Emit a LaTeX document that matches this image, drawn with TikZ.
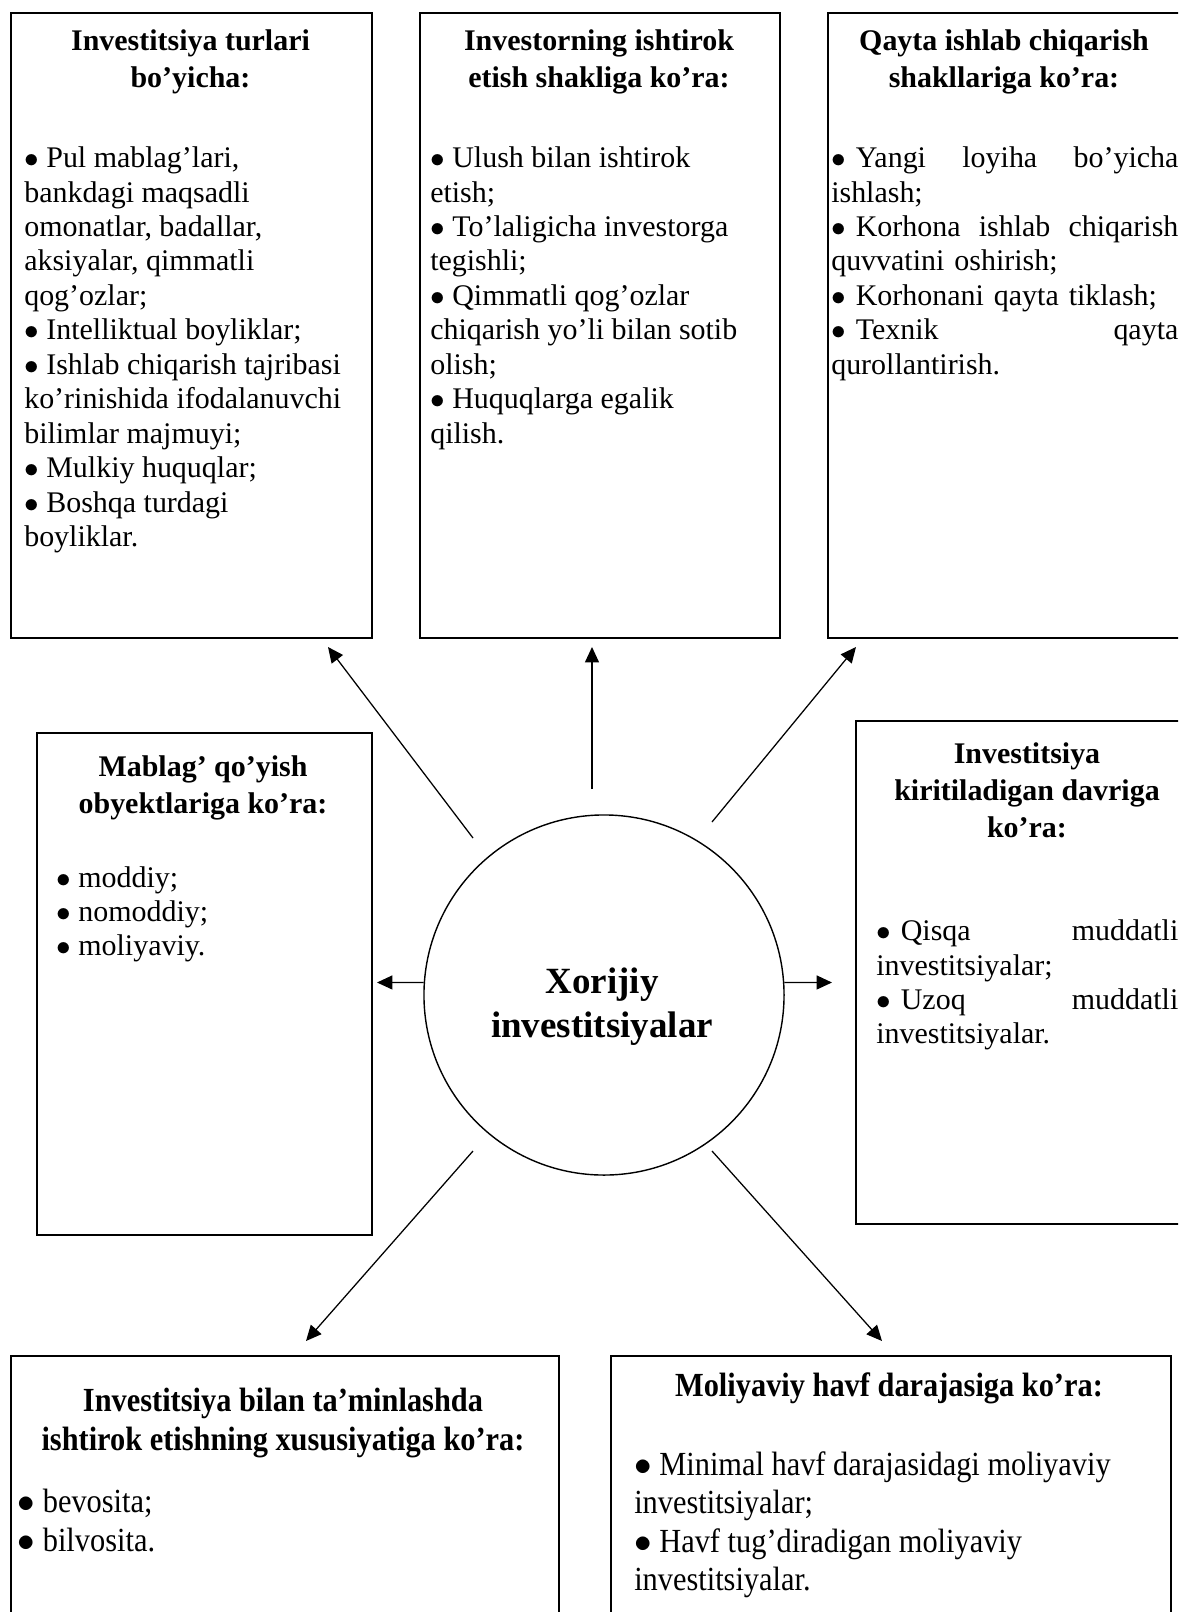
\documentclass[tikz,border=0pt]{standalone}
\usepackage{fontspec}
\setmainfont{Liberation Serif}
\newfontfamily\tallfont[FakeStretch=0.9]{Liberation Serif}
\usetikzlibrary{arrows.meta}
\newcommand{\dotitem}{$\bullet$\ }

\begin{document}
\begin{tikzpicture}[x=0.025cm, y=-0.025cm,
        frame/.style={draw, line width=1.1pt, anchor=north west, inner sep=0pt},
        heading/.style={font=\fontsize{21.3}{26.3}\selectfont\bfseries, align=center, anchor=north, inner sep=0pt},
        items/.style={font=\fontsize{21.3}{24.5}\selectfont, align=left, anchor=north west, inner sep=0pt},
        lowheading/.style={font=\tallfont\fontsize{24}{27.7}\selectfont\bfseries, align=center, anchor=north, inner sep=0pt},
        lowitems/.style={font=\tallfont\fontsize{24}{27.4}\selectfont, align=left, anchor=north west, inner sep=0pt},
        hub/.style={circle, draw, line width=1pt, minimum size=9cm, inner sep=0pt},
        hubtext/.style={font=\fontsize{26.3}{31.3}\selectfont\bfseries, align=center, anchor=north, inner sep=0pt},
        link/.style={line width=0.9pt, -{Triangle[length=11pt, width=10pt]}}
    ]
    \useasboundingbox (0,0) rectangle (1178,1612);
    \clip (0,0) rectangle (1178,1612);

    % Riquadri in alto
    \node[frame, minimum width=9.025cm, minimum height=15.625cm] (box1) at (10,12) {};
    \node[heading] (head1) at (190.5,29) {Investitsiya turlari\\bo’yicha:};
    \node[items] (list1) at (24,146.5) {\dotitem Pul mablag’lari,\\bankdagi maqsadli\\omonatlar, badallar,\\aksiyalar, qimmatli\\qog’ozlar;\\\dotitem Intelliktual boyliklar;\\\dotitem Ishlab chiqarish tajribasi\\ko’rinishida ifodalanuvchi\\bilimlar majmuyi;\\\dotitem Mulkiy huquqlar;\\\dotitem Boshqa turdagi\\boyliklar.};

    \node[frame, minimum width=9cm, minimum height=15.625cm] (box2) at (419,12) {};
    \node[heading] (head2) at (599,29) {Investorning ishtirok\\etish shakliga ko’ra:};
    \node[items] (list2) at (430,146.5) {\dotitem Ulush bilan ishtirok\\etish;\\\dotitem To’laligicha investorga\\tegishli;\\\dotitem Qimmatli qog’ozlar\\chiqarish yo’li bilan sotib\\olish;\\\dotitem Huquqlarga egalik\\qilish.};

    \node[frame, minimum width=9cm, minimum height=15.625cm] (box3) at (827,12) {};
    \node[heading] (head3) at (1004,29) {Qayta ishlab chiqarish\\shakllariga ko’ra:};
    \node[items, text width=8.675cm] (list3) at (831,146.5) {\dotitem Yangi\hfill loyiha\hfill bo’yicha\\ishlash;\\\dotitem Korhona\hfill ishlab\hfill chiqarish\\quvvatini oshirish;\\\dotitem Korhonani qayta tiklash;\\\dotitem Texnik\hfill qayta\\qurollantirish.};

    % Riquadri ai lati
    \node[frame, minimum width=8.375cm, minimum height=12.55cm] (box4) at (36,732) {};
    \node[heading] (head4) at (203,755) {Mablag’ qo’yish\\obyektlariga ko’ra:};
    \node[items] (list4) at (56,866) {\dotitem moddiy;\\\dotitem nomoddiy;\\\dotitem moliyaviy.};

    \node[frame, minimum width=8.5cm, minimum height=12.575cm] (box5) at (855,720) {};
    \node[heading] (head5) at (1027,742) {Investitsiya\\kiritiladigan davriga\\ko’ra:};
    \node[items, text width=7.55cm] (list5) at (876,919.5) {\dotitem Qisqa\hfill muddatli\\investitsiyalar;\\\dotitem Uzoq\hfill muddatli\\investitsiyalar.};

    % Riquadri in basso
    \node[frame, minimum width=13.7cm, minimum height=7.5cm] (box6) at (10,1355) {};
    \node[lowheading] (head6) at (283,1388) {Investitsiya bilan ta’minlashda\\ishtirok etishning xususiyatiga ko’ra:};
    \node[lowitems] (list6) at (17.5,1489) {\dotitem bevosita;\\\dotitem bilvosita.};

    \node[frame, minimum width=14cm, minimum height=7.5cm] (box7) at (610,1355) {};
    \node[lowheading] (head7) at (889,1372) {Moliyaviy havf darajasiga ko’ra:};
    \node[lowitems] (list7) at (634,1451) {\dotitem Minimal havf darajasidagi moliyaviy\\investitsiyalar;\\\dotitem Havf tug’diradigan moliyaviy\\investitsiyalar.};

    % Cerchio centrale
    \node[hub] (hub) at (604,995) {};
    \node[hubtext] (hublabel) at (602,968) {Xorijiy\\investitsiyalar};

    % Estremi delle frecce
    \coordinate (ulS) at (473,838);
    \coordinate (ulE) at (328,647);
    \coordinate (upS) at (592,789);
    \coordinate (upE) at (592,647);
    \coordinate (urS) at (712,822);
    \coordinate (urE) at (856,647);
    \coordinate (lfE) at (377,982.5);
    \coordinate (rtE) at (832,982.5);
    \coordinate (llS) at (473,1151);
    \coordinate (llE) at (306,1341);
    \coordinate (lrS) at (712,1151);
    \coordinate (lrE) at (882,1341);

    % Frecce
    \draw[link] (ulS) -- (ulE);
    \draw[link] (upS) -- (upE);
    \draw[link] (urS) -- (urE);
    \draw[link] (hub.176) -- (lfE);
    \draw[link] (hub.4) -- (rtE);
    \draw[link] (llS) -- (llE);
    \draw[link] (lrS) -- (lrE);
\end{tikzpicture}
\end{document}
